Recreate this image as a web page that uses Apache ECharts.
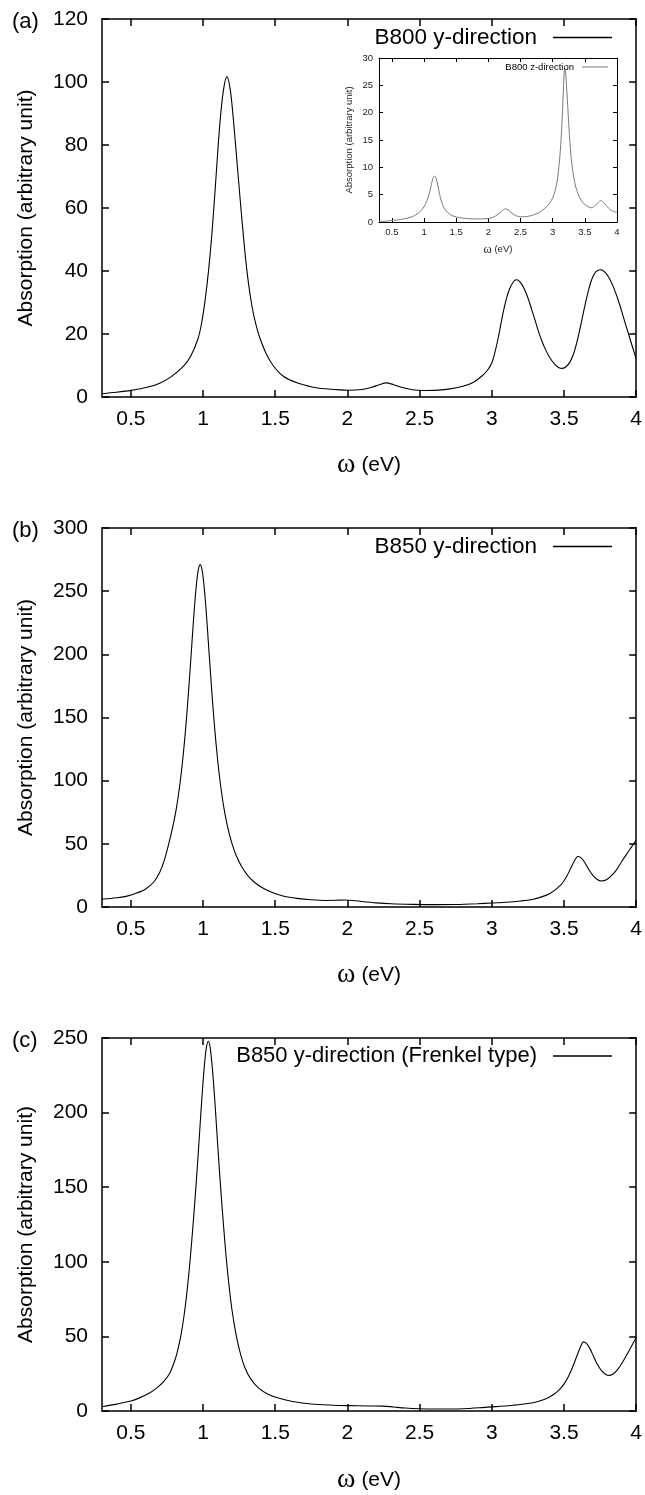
<!DOCTYPE html>
<html><head><meta charset="utf-8">
<script src="https://cdn.jsdelivr.net/npm/echarts@6/dist/echarts.min.js"></script>
<style>html,body{margin:0;padding:0;background:#fff}#c{width:645px;height:1495px}</style>
</head><body><div id="c"></div>
<script>
// ---------- data ----------
const xTicks = [0.5, 1, 1.5, 2, 2.5, 3, 3.5, 4];
const yTicksA = [0, 20, 40, 60, 80, 100, 120];
const yTicksInset = [0, 5, 10, 15, 20, 25, 30];
const yTicksB = [0, 50, 100, 150, 200, 250, 300];
const yTicksC = [0, 50, 100, 150, 200, 250];

// (a) B800 y-direction
const xA = [0.3,0.4,0.5,0.62,0.7,0.775,0.865,0.915,0.965,0.99,1.015,1.04,1.065,1.09,1.115,1.14,1.165,1.19,1.215,1.24,1.265,1.29,1.315,1.34,1.365,1.39,1.435,1.485,1.556,1.65,1.755,1.85,1.95,2.0,2.1,2.17,2.22,2.27,2.32,2.38,2.45,2.52,2.6,2.7,2.8,2.87,2.93,2.97,3.0,3.025,3.05,3.075,3.1,3.125,3.15,3.17,3.19,3.21,3.23,3.25,3.275,3.3,3.325,3.35,3.375,3.4,3.435,3.465,3.49,3.515,3.54,3.565,3.59,3.615,3.64,3.665,3.69,3.72,3.755,3.78,3.81,3.84,3.87,3.9,3.925,3.95,3.975,4.0];
const yA = [1.05,1.5,2.1,3.2,4.4,6.3,9.8,13,18.5,23.5,31,41,54,70,86,97,101.7,97,85.5,72,58.5,46,36,28.5,23.2,19.2,14,10,6.6,4.5,3.2,2.6,2.25,2.15,2.4,3.1,3.9,4.5,3.9,3.0,2.3,2.05,2.1,2.5,3.4,4.6,6.6,8.5,10.8,14.8,20,26,31,34.5,36.6,37.2,36.8,35.6,33.8,31.5,28,24.3,20.6,17.4,14.8,12.6,10.4,9.3,9.1,9.6,11,13.5,17.5,22.5,28,33,37,39.7,40.4,39.8,38,35.2,31.5,27.2,23.3,19.6,15.8,12.2];

// (a) inset: B800 z-direction
const xInset = [0.3,0.45,0.6,0.7,0.8,0.9,0.97,1.02,1.06,1.09,1.115,1.14,1.165,1.19,1.215,1.24,1.27,1.31,1.37,1.45,1.55,1.7,1.85,2.0,2.08,2.15,2.21,2.265,2.31,2.37,2.44,2.52,2.6,2.7,2.8,2.88,2.95,3.0,3.04,3.07,3.1,3.125,3.15,3.17,3.185,3.2,3.215,3.235,3.26,3.29,3.33,3.38,3.44,3.5,3.56,3.61,3.66,3.71,3.75,3.79,3.84,3.9,3.95,4.0];
const yInset = [0.1,0.2,0.4,0.6,0.9,1.5,2.3,3.2,4.4,5.6,6.9,8.0,8.4,7.9,6.7,5.2,3.8,2.6,1.7,1.1,0.8,0.6,0.55,0.65,0.9,1.4,2.0,2.4,2.2,1.6,1.1,0.95,1.0,1.3,1.8,2.5,3.4,4.4,5.8,7.5,10.5,14,19.5,25,28,27.5,25,21,16,11.5,8,5.6,4.0,3.2,2.75,2.6,3.0,3.6,3.9,3.6,2.9,2.2,1.9,1.8];

// (b) B850 y-direction
const xB = [0.3,0.4,0.48,0.54,0.6,0.66,0.7,0.73,0.76,0.79,0.815,0.84,0.86,0.88,0.9,0.92,0.935,0.95,0.965,0.98,0.995,1.01,1.025,1.04,1.06,1.08,1.1,1.12,1.145,1.17,1.2,1.23,1.27,1.31,1.36,1.42,1.48,1.56,1.65,1.75,1.85,1.92,1.98,2.04,2.1,2.2,2.3,2.45,2.6,2.75,2.9,3.0,3.1,3.2,3.28,3.35,3.4,3.45,3.49,3.52,3.55,3.575,3.595,3.615,3.64,3.67,3.7,3.73,3.76,3.79,3.82,3.86,3.9,3.95,4.0];
const yB = [6.1,7.3,8.8,11,14,20,27.5,36.5,49,63.4,78,97.6,117.5,142,171.5,204,229,250.5,265.6,271,265.6,250.5,229,204,171.5,142,117.5,97.6,78,63.4,50.3,40.6,31.4,24.9,19.2,14.6,11.4,8.5,6.8,5.7,5.2,5.3,5.6,5.2,4.4,3.3,2.6,2.1,1.9,2.0,2.6,3.2,3.8,4.8,6.0,8.2,10.5,14.5,19,24.5,31.5,37,40,39.3,35.8,30,25,21.8,20.6,21.3,23.8,28.8,36,44.5,53];

// (c) B850 y-direction (Frenkel type)
const xC = [0.3,0.4,0.5,0.56,0.62,0.68,0.73,0.77,0.8,0.82,0.846,0.87,0.892,0.912,0.932,0.947,0.962,0.977,0.992,1.007,1.022,1.036,1.05,1.065,1.08,1.095,1.11,1.125,1.14,1.16,1.18,1.2,1.229,1.26,1.29,1.33,1.385,1.45,1.528,1.62,1.75,1.9,2.0,2.15,2.25,2.32,2.4,2.5,2.6,2.8,2.95,3.05,3.15,3.25,3.32,3.38,3.43,3.47,3.5,3.53,3.56,3.59,3.615,3.635,3.655,3.68,3.705,3.73,3.76,3.79,3.81,3.84,3.87,3.9,3.95,4.0];
const yC = [2.9,4.6,6.7,8.8,11.5,15.5,20,25.5,32.7,39,50.3,65,83,103,126.5,145.5,166,188,210,229,243,247.8,243,229,210,188,166,145.5,126.5,103,84,68,51,38,29,21.5,15.3,11.3,8.5,6.4,4.7,3.9,3.6,3.4,3.3,2.7,2.0,1.5,1.3,1.5,2.4,3.1,3.9,5.0,6.4,8.4,11.2,14.5,18,23,29.5,37,43,46.3,45.3,41.8,36.5,31.5,27,24.5,23.8,24.8,27.5,31.8,40.2,49.2];

const namesMain = ['B800 y-direction', 'B850 y-direction', 'B850 y-direction (Frenkel type)'];
const nameInset = 'B800 z-direction';
const panelLabels = ['(a)', '(b)', '(c)'];
const yTitle = 'Absorption (arbitrary unit)';
const xTitle = '{w|\u03c9} (eV)';

// ---------- chart ----------
const FONT = '"Liberation Sans", Arial, Helvetica, sans-serif';
const SERIF = '"Liberation Serif", "DejaVu Serif", serif';
function zip(xs, ys) { return xs.map((x, i) => [x, ys[i]]); }

const grids = [
  {left: 102, top: 19, width: 536, height: 378},
  {left: 379, top: 58, width: 238, height: 164},
  {left: 102, top: 528, width: 536, height: 379},
  {left: 102, top: 1038, width: 536, height: 379}
];
const cfg = [
  {yTicks: yTicksA, fs: 21, lw: 1.5, tl: 7, xm: 12, ym: 14, xGap: 54, yGap: 65, ws: 28},
  {yTicks: yTicksInset, fs: 9.5, lw: 1, tl: 4, xm: 5, ym: 6, xGap: 21, yGap: 25, ws: 12.5},
  {yTicks: yTicksB, fs: 21, lw: 1.5, tl: 7, xm: 12, ym: 14, xGap: 54, yGap: 65, ws: 28},
  {yTicks: yTicksC, fs: 21, lw: 1.5, tl: 7, xm: 12, ym: 14, xGap: 55, yGap: 65, ws: 28}
];

const xAxes = [], yAxes = [];
cfg.forEach((c, gi) => {
  const tc = gi === 1 ? '#222' : '#000';
  ['bottom', 'top'].forEach(pos => {
    const main = pos === 'bottom';
    xAxes.push({
      type: 'value', gridIndex: gi, position: pos, min: 0.3, max: 4,
      axisLine: {show: true, onZero: false, lineStyle: {color: '#000', width: c.lw}},
      axisTick: {show: true, inside: true, length: c.tl, customValues: xTicks, lineStyle: {color: '#000', width: c.lw}},
      axisLabel: {show: main, customValues: xTicks, fontSize: c.fs, fontFamily: FONT, color: tc, margin: c.xm},
      splitLine: {show: false},
      name: main ? xTitle : '', nameLocation: 'middle', nameGap: c.xGap,
      nameTextStyle: {fontSize: c.fs, fontFamily: FONT, color: tc,
        rich: {w: {fontSize: c.ws, fontFamily: SERIF, color: tc}}}
    });
  });
  const yt = c.yTicks;
  ['left', 'right'].forEach(pos => {
    const main = pos === 'left';
    yAxes.push({
      type: 'value', gridIndex: gi, position: pos, min: yt[0], max: yt[yt.length - 1], interval: yt[1] - yt[0],
      axisLine: {show: true, onZero: false, lineStyle: {color: '#000', width: c.lw}},
      axisTick: {show: true, inside: true, length: c.tl, lineStyle: {color: '#000', width: c.lw}},
      axisLabel: {show: main, fontSize: c.fs, fontFamily: FONT, color: tc, margin: c.ym},
      splitLine: {show: false},
      name: main ? yTitle : '', nameLocation: 'middle', nameGap: c.yGap,
      nameTextStyle: {fontSize: c.fs, fontFamily: FONT, color: tc}
    });
  });
});

function lineSeries(name, gi, data, color, w) {
  return {
    type: 'line', name: name, xAxisIndex: gi * 2, yAxisIndex: gi * 2, data: data,
    showSymbol: false, symbol: 'none', smooth: 0.3,
    lineStyle: {color: color, width: w}, itemStyle: {color: color},
    animation: false, silent: true
  };
}

const series = [
  lineSeries(namesMain[0], 0, zip(xA, yA), '#000', 1.1),
  lineSeries(nameInset, 1, zip(xInset, yInset), '#7a7a7a', 1),
  lineSeries(namesMain[1], 2, zip(xB, yB), '#000', 1.1),
  lineSeries(namesMain[2], 3, zip(xC, yC), '#000', 1.1)
];

function legendFor(name, top, right, fs, w, h, pad) {
  return {
    data: [name], top: top, right: right, orient: 'horizontal', align: 'right',
    icon: 'rect', itemWidth: w, itemHeight: h, selectedMode: false, padding: 0,
    textStyle: {fontSize: fs, fontFamily: FONT, color: '#000', padding: [0, pad, 0, 0]}
  };
}

const legends = [
  legendFor(namesMain[0], 26, 33, 22.5, 59, 1.5, 11),
  legendFor(nameInset, 62, 37, 9.5, 26, 1, 3),
  legendFor(namesMain[1], 535, 33, 22.5, 59, 1.5, 11),
  legendFor(namesMain[2], 1045, 33, 22, 59, 1.5, 11)
];

const labelY = [22, 531, 1041];
const graphic = panelLabels.map((t, i) => ({
  type: 'text', x: 12, y: labelY[i],
  style: {text: t, fontSize: 22, fontFamily: FONT, fill: '#000', verticalAlign: 'middle'}
}));

const chart = echarts.init(document.getElementById('c'), null, {renderer: 'canvas'});
chart.setOption({
  animation: false,
  backgroundColor: '#fff',
  grid: grids,
  xAxis: xAxes,
  yAxis: yAxes,
  legend: legends,
  series: series,
  graphic: graphic
});
</script>
</body></html>
